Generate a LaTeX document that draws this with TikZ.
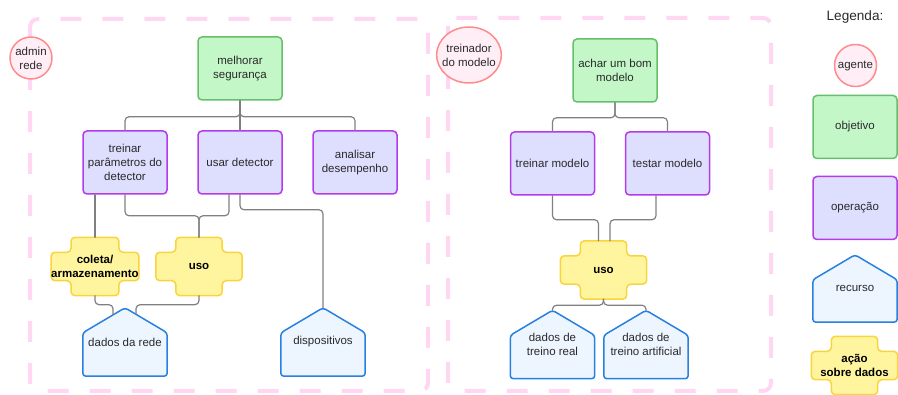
\documentclass[tikz,border=0pt]{standalone}
\usepackage{fontspec}
\setmainfont{Liberation Sans}
\usetikzlibrary{calc}
\usetikzlibrary{backgrounds}
\usetikzlibrary{shapes.geometric}

\definecolor{agentefill}{HTML}{FFEEF6}
\definecolor{agentedraw}{HTML}{FF8C8C}
\definecolor{objfill}{HTML}{C3F7C8}
\definecolor{objdraw}{HTML}{67BF6B}
\definecolor{opfill}{HTML}{DEDEFF}
\definecolor{opdraw}{HTML}{B33CE8}
\definecolor{recfill}{HTML}{EDF5FF}
\definecolor{recdraw}{HTML}{2880E0}
\definecolor{acaofill}{HTML}{FFF59E}
\definecolor{acaodraw}{HTML}{F9D43E}
\definecolor{linha}{HTML}{808080}
\definecolor{grupo}{HTML}{FFD7F2}
\definecolor{texto}{HTML}{2A2A2A}

\tikzset{
  rotulo/.style={font=\fontsize{11.5}{14}\selectfont, text=texto, align=center, inner sep=0pt},
  agente/.style={rotulo, circle, draw=agentedraw, fill=agentefill, line width=1.5pt, minimum size=42pt},
  objetivo/.style={rotulo, rectangle, rounded corners=4pt, draw=objdraw, fill=objfill, line width=1.5pt, minimum width=84pt, minimum height=63pt},
  operacao/.style={rotulo, rectangle, rounded corners=4pt, draw=opdraw, fill=opfill, line width=1.5pt, minimum width=84pt, minimum height=63pt},
  recurso/.style={rotulo, minimum width=84pt, minimum height=68pt},
  acao/.style={rotulo, font=\fontsize{11.5}{14}\selectfont\bfseries, text=black, minimum width=86pt, minimum height=58pt},
  ligacao/.style={draw=linha, line width=1.2pt, rounded corners=4pt},
  grupo/.style={draw=grupo, line width=4pt, dash pattern=on 21pt off 21pt, rounded corners=8pt, line cap=butt},
}

% contorno de casinha para os recursos
\newcommand\casinha[1]{%
  \draw[line width=1.5pt, draw=recdraw, fill=recfill, rounded corners=3pt]
    (#1.north) -- ($(#1.north east)+(0,25)$) -- (#1.south east) -- (#1.south west)
    -- ($(#1.north west)+(0,25)$) -- cycle;}

% contorno de cruz para as acoes sobre dados
\newcommand\cruz[1]{%
  \draw[line width=1.5pt, draw=acaodraw, fill=acaofill, rounded corners=4pt]
    ($(#1.north west)+(20,0)$) -- ($(#1.north east)+(-20,0)$) -- ($(#1.north east)+(-20,15)$)
    -- ($(#1.north east)+(0,15)$) -- ($(#1.south east)+(0,-15)$) -- ($(#1.south east)+(-20,-15)$)
    -- ($(#1.south east)+(-20,0)$) -- ($(#1.south west)+(20,0)$) -- ($(#1.south west)+(20,-15)$)
    -- ($(#1.south west)+(0,-15)$) -- ($(#1.north west)+(0,15)$) -- ($(#1.north west)+(20,15)$) -- cycle;}

\begin{document}
\begin{tikzpicture}[line cap=round,line join=round,x=1pt,y=-1pt]
\useasboundingbox (0,0) rectangle (898,395);

% grupos
\draw [grupo] (30,19) rectangle (428,391);
\draw [grupo] (448,18) rectangle (771,391);

% admin rede
\node [agente] (admin) at (31,58) {admin\\rede};
\node [objetivo] (melhorar) at (240,68.5) {melhorar\\segurança};
\node [operacao] (treinar) at (125,162.5) {treinar\\parâmetros do\\detector};
\node [operacao] (usar) at (240,162.5) {usar detector};
\node [operacao] (analisar) at (355,162.5) {analisar\\desempenho};
\node [acao] (coleta) at (95,266.5) {coleta/\\armazenamento};
\node [acao] (usoA) at (199,266.5) {uso};
\node [recurso] (rede) at (125,342) {dados da rede};
\node [recurso] (disp) at (323,342) {dispositivos};

% treinador do modelo
\node [rotulo, ellipse, draw=agentedraw, fill=agentefill, line width=1.5pt, inner xsep=-4pt, minimum width=64pt, minimum height=56pt] (treinador) at (469,55) {treinador\\do modelo};
\node [objetivo] (achar) at (615,70.5) {achar um bom\\modelo};
\node [operacao] (treinarM) at (552.5,163.5) {treinar modelo};
\node [operacao] (testarM) at (667.5,163.5) {testar modelo};
\node [acao] (usoB) at (603.5,270) {uso};
\node [recurso] (real) at (552.5,344.5) {dados de\\treino real};
\node [recurso] (artif) at (646,344.5) {dados de\\treino artificial};

% legenda
\node [rotulo, font=\fontsize{13.6}{16}\selectfont] (legenda) at (855,17) {Legenda:};
\node [agente] (legAgente) at (855.5,65.5) {agente};
\node [objetivo] (legObj) at (855,127) {objetivo};
\node [operacao] (legOp) at (855,208) {operação};
\node [recurso, minimum height=67pt] (legRec) at (855,288.5) {recurso};
\node [acao] (legAcao) at (854.5,365.5) {ação\\sobre dados};

\begin{scope}[on background layer]
\casinha{rede} \casinha{disp} \casinha{real} \casinha{artif} \casinha{legRec}
\cruz{coleta} \cruz{usoA} \cruz{usoB} \cruz{legAcao}
\end{scope}

\coordinate (redeL) at ($(rede.north)+(-12,7)$);
\coordinate (redeR) at ($(rede.north)+(11,6.5)$);

% ligacoes
\draw [ligacao] (melhorar.south) -- ++(0,16) -| (treinar.north);
\draw [ligacao] (melhorar.south) -- ++(0,16) -| (analisar.north);
\draw [ligacao] (melhorar.south) -- (usar.north);
\draw [ligacao] (treinar.south -| coleta.north) -- (coleta.north);
\draw [ligacao] (treinar.south) -- ++(0,21) -| (usoA.north);
\draw [ligacao] ([xshift=-11pt]usar.south) -- ++(0,21) -| (usoA.north);
\draw [ligacao] (usar.south) -- ++(0,15) -| (disp.north);
\draw [ligacao] (coleta.south) -- ++(0,9) -| (redeL);
\draw [ligacao] (usoA.south) -- ++(0,9) -| (redeR);

\draw [ligacao] (achar.south) -- ++(0,15) -| (treinarM.north);
\draw [ligacao] (achar.south) -- ++(0,15) -| (testarM.north);
\draw [ligacao] (treinarM.south) -- ++(0,24) -| ([xshift=-5pt]usoB.north);
\draw [ligacao] ([xshift=-11.5pt]testarM.south) -- ++(0,24) -| ([xshift=6.5pt]usoB.north);
\draw [ligacao] (usoB.south) -- ++(0,6) -| (real.north);
\draw [ligacao] (usoB.south) -- ++(0,6) -| (artif.north);
\end{tikzpicture}
\end{document}
